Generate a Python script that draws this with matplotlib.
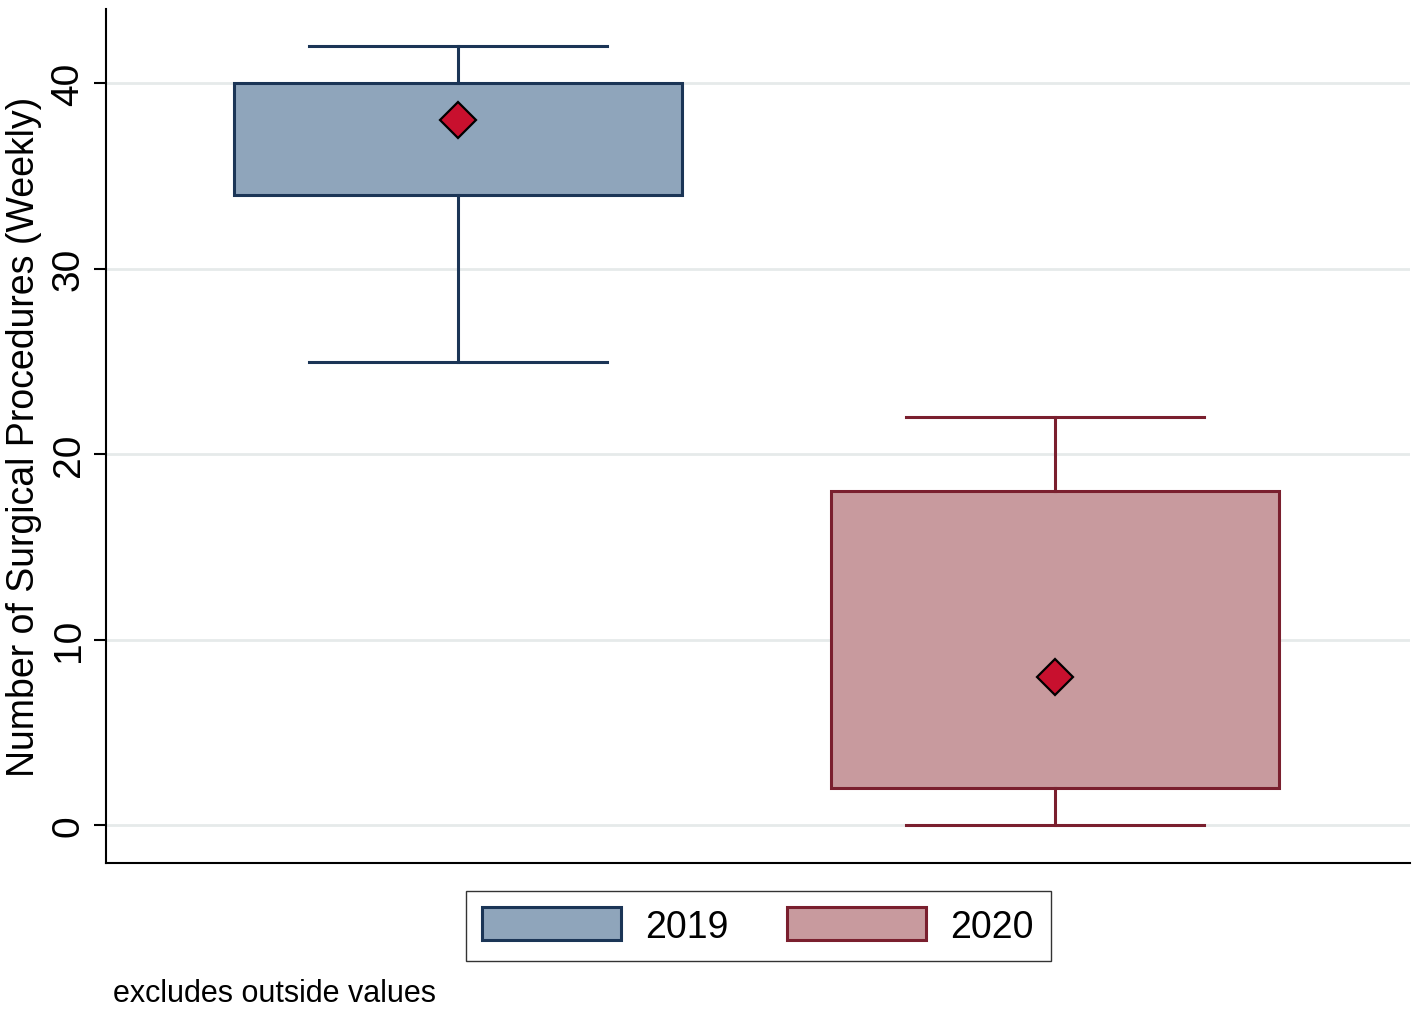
import matplotlib.pyplot as plt
from matplotlib.patches import Patch

plt.rcParams['font.family'] = ['Liberation Sans', 'DejaVu Sans']

years = ['2019', '2020']
q1 = [34, 2]
q3 = [40, 18]
whislo = [25, 0]
whishi = [42, 22]
means = [38, 8]
yticks = [0, 10, 20, 30, 40]

fills = ['#8fa5bb', '#c89a9e']
edges = ['#1b3556', '#7a1f2e']

fig = plt.figure(figsize=(14.17, 10.12), dpi=100)
ax = fig.add_axes([0.0748, 0.146, 0.9202, 0.844])

for i in range(2):
    st = dict(med=q1[i], q1=q1[i], q3=q3[i], whislo=whislo[i], whishi=whishi[i],
              mean=means[i], fliers=[], label=years[i])
    ax.bxp([st], positions=[i + 1], widths=0.75, capwidths=0.5, patch_artist=True,
           showmeans=True, showfliers=False,
           boxprops=dict(facecolor=fills[i], edgecolor=edges[i], linewidth=2.2),
           whiskerprops=dict(color=edges[i], linewidth=2.2),
           capprops=dict(color=edges[i], linewidth=2.2),
           medianprops=dict(visible=False),
           meanprops=dict(marker='D', markerfacecolor='#c8102e', markeredgecolor='black',
                          markeredgewidth=1.6, markersize=18))

ax.set_xlim(0.41, 2.595)
ax.set_ylim(-2.05, 44)
ax.set_yticks(yticks)
ax.set_yticklabels([str(t) for t in yticks], rotation=90, va='center', fontsize=28)
ax.set_xticks([])
ax.tick_params(axis='y', length=9, width=1.5, pad=5)
ax.grid(axis='y', color='#e6eaea', linewidth=2)
ax.set_axisbelow(True)
for s in ['top', 'right']:
    ax.spines[s].set_visible(False)
for s in ['left', 'bottom']:
    ax.spines[s].set_linewidth(1.5)
ax.set_ylabel('Number of Surgical Procedures (Weekly)', fontsize=27, labelpad=6)

handles = [Patch(facecolor=fills[i], edgecolor=edges[i], linewidth=2.2) for i in range(2)]
fig.legend(handles, years, loc='center', bbox_to_anchor=(0.535, 0.084), ncol=2,
           fontsize=27, frameon=True, fancybox=False, edgecolor='black',
           handlelength=3.7, handleheight=0.95, columnspacing=1.55, handletextpad=0.65,
           borderpad=0.45)
fig.text(0.08, 0.01, 'excludes outside values', fontsize=22)

fig.savefig('out.png', dpi=100)
